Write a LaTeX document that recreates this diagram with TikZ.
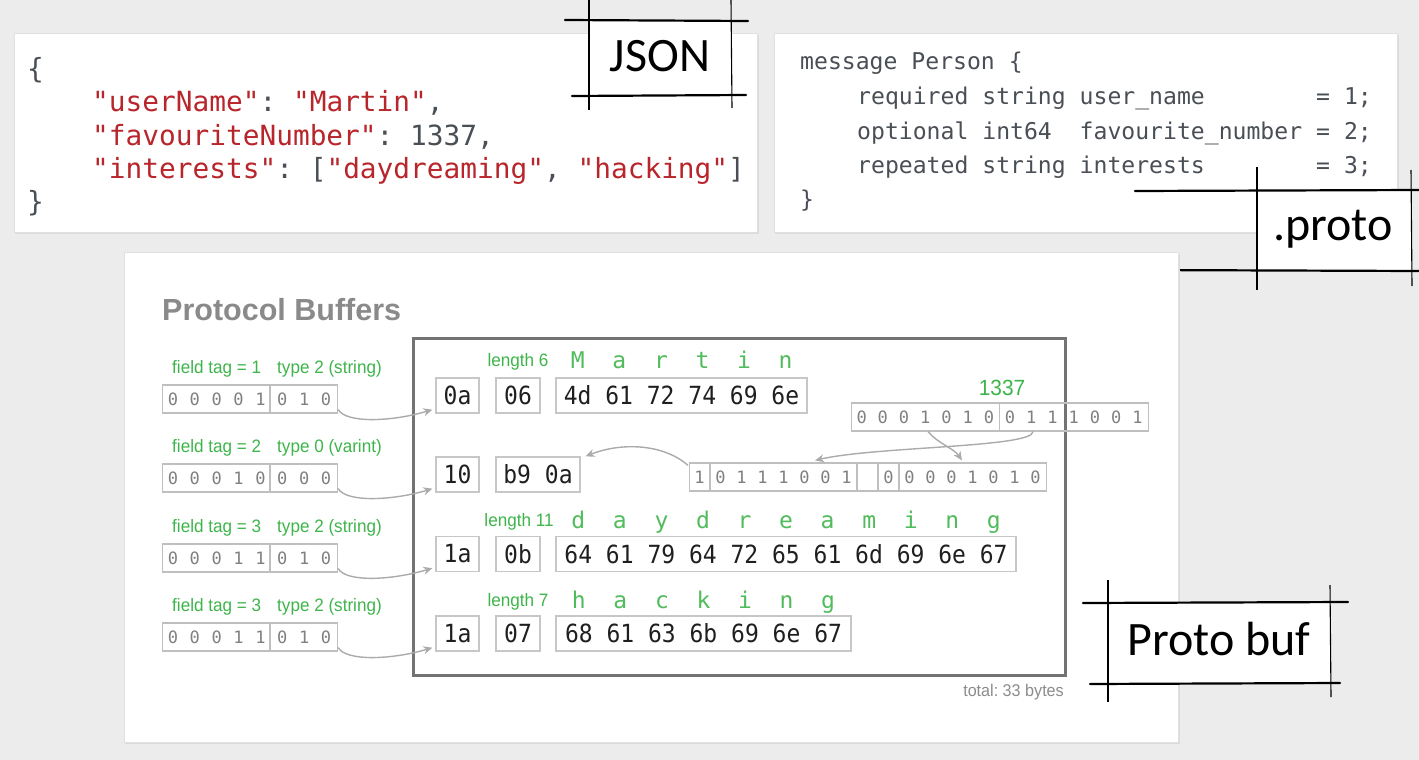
\documentclass[tikz,border=0pt]{standalone}
\usepackage{fontspec}
\setmainfont{Carlito}
\newfontfamily\monof{DejaVu Sans Mono}
\newfontfamily\hexf[FakeStretch=0.92]{DejaVu Sans Mono}
\newfontfamily\narrowf[FakeStretch=0.95]{Liberation Sans}
\newfontfamily\sansf{Liberation Sans}
\usetikzlibrary{arrows.meta,calc}
\definecolor{bg}{HTML}{ECECEC}
\definecolor{jred}{HTML}{B8262B}
\definecolor{jgray}{HTML}{4A4F55}
\definecolor{lgreen}{HTML}{3DB54A}
\definecolor{ttlgray}{HTML}{8A8A8A}
\newcommand\us{\char"5F\relax}
\tikzset{
  panel/.style={fill=white, draw=black!12, line width=0.8},
  pshadow/.style={fill=black!14},
  codej/.style={anchor=base west, inner sep=0, font=\monof\fontsize{27.8}{27.8}\selectfont},
  codep/.style={anchor=base west, inner sep=0, text=jgray, font=\monof\fontsize{23.1}{23.1}\selectfont},
  hexbox/.style={draw=black!22, line width=1.3, fill=white, inner sep=0, minimum height=35, text=black!88, font=\hexf\fontsize{25}{25}\selectfont},
  bitbox/.style={draw=black!25, line width=1.2, inner sep=0, minimum height=28},
  bitdiv/.style={draw=black!25, line width=1.2},
  bit/.style={font=\monof\fontsize{17}{17}\selectfont, text=black!50, inner sep=0},
  glabel/.style={font=\narrowf\fontsize{18}{18}\selectfont, text=lgreen, inner sep=0},
  letter/.style={font=\monof\fontsize{23}{23}\selectfont, text=lgreen!90!white, inner sep=0, anchor=base},
  conn/.style={draw=black!33, line width=1.4, -{Stealth[length=9, width=8]}},
  frameh/.style={draw=black, line width=2.2, line cap=round},
  framev/.style={draw=black, line width=1.1},
  tag/.style={font=\fontsize{48}{48}\selectfont, inner sep=0, anchor=base}
}
\newcommand\bitrow[3]{%
  \node[bitbox, minimum width=175, anchor=west] (#1) at (162,#2) {};
  \draw[bitdiv] ($(#1.north west)+(108,0)$) -- ($(#1.south west)+(108,0)$);
  \foreach \d [count=\i from 0] in {#3} \node[bit] (#1d\i) at ({162+21.875*(\i+0.5)},#2) {\d};
}
\begin{document}
\frenchspacing
\begin{tikzpicture}[x=1pt,y=-1pt]
\useasboundingbox (0,0) rectangle (1419,760);
\fill[bg] (0,0) rectangle (1419,760);

% ---------- JSON panel
\fill[pshadow] (15,35) rectangle (759,234);
\draw[panel] (14,33) rectangle (757,232);
\node[codej, text=jgray] (j1) at (27,78) {\{};
\node[codej] (j2) at (92,111) {\textcolor{jred}{"userName"}\textcolor{jgray}{: }\textcolor{jred}{"Martin"}\textcolor{jgray}{,}};
\node[codej] (j3) at (92,145) {\textcolor{jred}{"favouriteNumber"}\textcolor{jgray}{: 1337,}};
\node[codej] (j4) at (92,178) {\textcolor{jred}{"interests"}\textcolor{jgray}{: [}\textcolor{jred}{"daydreaming"}\textcolor{jgray}{, }\textcolor{jred}{"hacking"}\textcolor{jgray}{]}};
\node[codej, text=jgray] (j5) at (27,211) {\}};

% JSON tag
\fill[white] (589,20) rectangle (731,96);
\draw[frameh] (565,20) -- (748,21);
\draw[frameh] (572,96) -- (746,95);
\draw[framev] (589,0) -- (589,110);
\draw[framev] (731,0) -- (732,108);
\node[tag] (jsontag) at (660,72) {JSON};

% ---------- proto panel
\fill[pshadow] (775,35) rectangle (1399,234);
\draw[panel] (774,33) rectangle (1397,232);
\node[codep] (p1) at (800,70) {message Person \{};
\node[codep] (p2) at (857,104) {required string user\us name};
\node[codep] (p3) at (857,139) {optional int64~~favourite\us number};
\node[codep] (p4) at (857,173) {repeated string interests};
\node[codep] (p2e) at (1316,104) {= 1;};
\node[codep] (p3e) at (1316,139) {= 2;};
\node[codep] (p4e) at (1316,173) {= 3;};
\node[codep] (p5) at (800,207) {\}};

% .proto tag
\fill[white] (1257,191) rectangle (1411,270);
\draw[frameh] (1135,191) -- (1419,190);
\draw[frameh] (1140,270) -- (1419,271);
\draw[framev] (1257,167) -- (1257,290);
\draw[framev] (1411,170) -- (1412,286);
\node[tag] (prototag) at (1333,240) {.proto};

% ---------- main panel
\fill[pshadow] (125,254) rectangle (1180,744);
\draw[panel] (124,252) rectangle (1178,742);
\node[anchor=base west, inner sep=0, text=ttlgray, font=\sansf\bfseries\fontsize{30.5}{30.5}\selectfont] (ttl) at (162,320) {Protocol Buffers};
\draw[draw=black!55, line width=3] (413,338) rectangle (1065,675);

% left labels and bit rows
\node[glabel, anchor=west] (l1a) at (172,369) {field tag = 1};
\node[glabel, anchor=west] (l1b) at (277,369) {type 2 (string)};
\bitrow{b1}{399}{0,0,0,0,1,0,1,0}
\node[glabel, anchor=west] (l2a) at (172,448) {field tag = 2};
\node[glabel, anchor=west] (l2b) at (277,448) {type 0 (varint)};
\bitrow{b2}{478}{0,0,0,1,0,0,0,0}
\node[glabel, anchor=west] (l3a) at (172,528) {field tag = 3};
\node[glabel, anchor=west] (l3b) at (277,528) {type 2 (string)};
\bitrow{b3}{558}{0,0,0,1,1,0,1,0}
\node[glabel, anchor=west] (l4a) at (172,607) {field tag = 3};
\node[glabel, anchor=west] (l4b) at (277,607) {type 2 (string)};
\bitrow{b4}{637}{0,0,0,1,1,0,1,0}

% hex rows
\node[hexbox, minimum width=43] (h1a) at (457.5,395.5) {0a};
\node[hexbox, minimum width=44] (h1b) at (518,395.5) {06};
\node[hexbox, minimum width=251] (h1c) at (681.5,395.5) {4d 61 72 74 69 6e};
\node[hexbox, minimum width=43] (h2a) at (457.5,474.5) {10};
\node[hexbox, minimum width=84] (h2b) at (538,474.5) {b9 0a};
\node[hexbox, minimum width=43] (h3a) at (457.5,554) {1a};
\node[hexbox, minimum width=44] (h3b) at (518,554) {0b};
\node[hexbox, minimum width=460] (h3c) at (786,554) {64 61 79 64 72 65 61 6d 69 6e 67};
\node[hexbox, minimum width=43] (h4a) at (457.5,633.5) {1a};
\node[hexbox, minimum width=44] (h4b) at (518,633.5) {07};
\node[hexbox, minimum width=295] (h4c) at (703.5,633.5) {68 61 63 6b 69 6e 67};

% length labels
\node[glabel] (len1) at (518,362) {length 6};
\node[glabel] (len3) at (519,522) {length 11};
\node[glabel] (len4) at (518,602) {length 7};

% letters
\foreach \c [count=\i from 0] in {M,a,r,t,i,n}
  \node[letter] (m\i) at ({564+13.85*(3*\i+1)},368) {\c};
\foreach \c [count=\i from 0] in {d,a,y,d,r,e,a,m,i,n,g}
  \node[letter] (d\i) at ({564.5+13.85*(3*\i+1)},528) {\c};
\foreach \c [count=\i from 0] in {h,a,c,k,i,n,g}
  \node[letter] (k\i) at ({565+13.85*(3*\i+1)},608) {\c};

% 1337 varint
\node[glabel, font=\narrowf\fontsize{22}{22}\selectfont] (n1337) at (1002,388) {1337};
\node[bitbox, minimum width=297, anchor=west] (ub) at (851,417) {};
\draw[bitdiv] ($(ub.north west)+(148.5,0)$) -- ($(ub.south west)+(148.5,0)$);
\foreach \d [count=\i from 0] in {0,0,0,1,0,1,0,0,1,1,1,0,0,1}
  \node[bit] (ubd\i) at ({851+21.214*(\i+0.5)},417) {\d};
\node[bitbox, minimum width=357, anchor=west] (lb) at (689,477) {};
\foreach \s in {21,168,189,210}
  \draw[bitdiv] ($(lb.north west)+(\s,0)$) -- ($(lb.south west)+(\s,0)$);
\foreach \d/\p [count=\i from 0] in {1/0,0/1,1/2,1/3,1/4,0/5,0/6,1/7,0/9,0/10,0/11,0/12,1/13,0/14,1/15,0/16}
  \node[bit] (lbd\i) at ({689+21*(\p+0.5)},477) {\d};

% connectors
\draw[conn] ($(b1.south east)+(0,-4)$) .. controls +(8,14) and +(-40,12) .. ($(h1a.south west)+(-3,-4)$);
\draw[conn] ($(b2.south east)+(0,-4)$) .. controls +(8,14) and +(-40,12) .. ($(h2a.south west)+(-3,-4)$);
\draw[conn] ($(b3.south east)+(0,-4)$) .. controls +(8,14) and +(-40,12) .. ($(h3a.south west)+(-3,-4)$);
\draw[conn] ($(b4.south east)+(0,-4)$) .. controls +(8,14) and +(-40,12) .. ($(h4a.south west)+(-3,-4)$);

\draw[conn] ($(ub.south west)+(77,0)$) .. controls +(10,12) and +(-8,-12) .. ($(lb.north west)+(273,-2)$);
\draw[conn] ($(ub.south west)+(182,0)$) .. controls +(0,16) and +(60,-14) .. ($(lb.north west)+(126,-2)$);
\draw[conn] ($(lb.north west)+(-1,3)$) .. controls +(-25,-22) and +(35,-14) .. ($(h2b.north east)+(5,0)$);

\node[anchor=east, inner sep=0, text=black!45, font=\narrowf\fontsize{17}{17}\selectfont] (total) at (1064,692) {total: 33 bytes};

% Proto buf tag
\fill[white] (1108,603) rectangle (1330,684);
\draw[frameh] (1083,603) -- (1348,602);
\draw[frameh] (1090,684) -- (1340,683);
\draw[framev] (1108,580) -- (1108,702);
\draw[framev] (1330,585) -- (1331,697);
\node[tag] (pbtag) at (1219,655) {Proto buf};
\end{tikzpicture}
\end{document}
